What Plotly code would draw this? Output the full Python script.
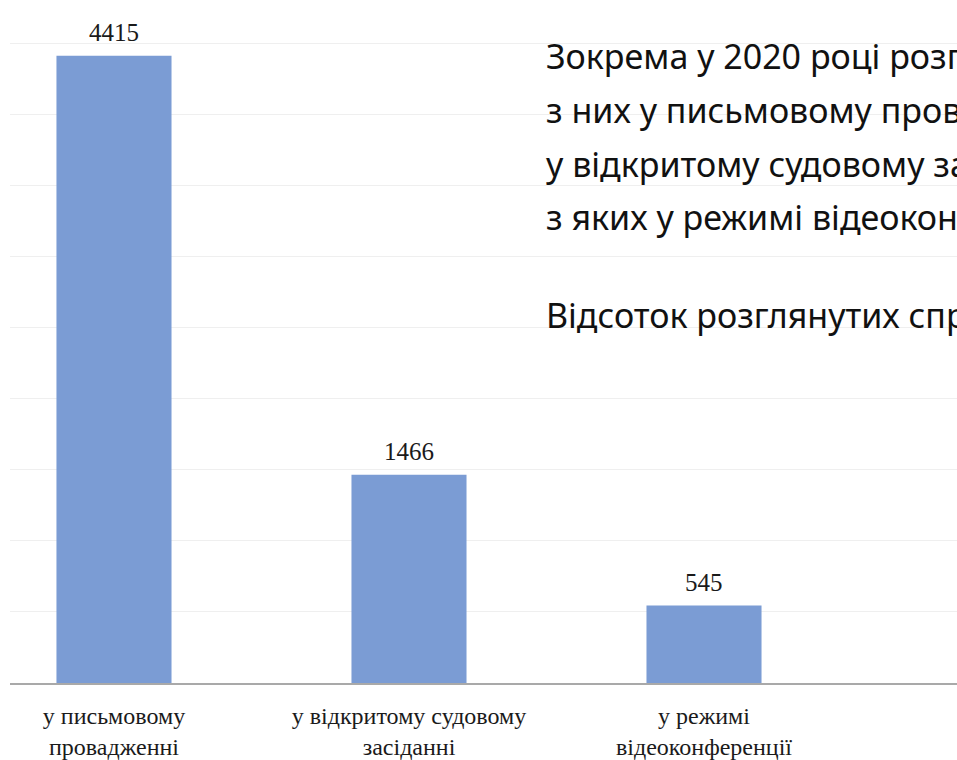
import plotly.graph_objects as go

categories = ["у письмовому<br>провадженні", "у відкритому судовому<br>засіданні", "у режимі<br>відеоконференції"]
values = [4415, 1466, 545]

text_lines = [
    "Зокрема у 2020 році розглянуто",
    "з них у письмовому провадженні",
    "у відкритому судовому засіданні",
    "з яких у режимі відеоконференції",
]
text_extra = "Відсоток розглянутих справ"

W, H = 957, 760
ML, MR, MT, MB = 10, 0, 8, 75

def px_x(px):
    return (px - ML) / (W - ML - MR)

def px_y(py):
    return 1 - (py - MT) / (H - MT - MB)

fig = go.Figure()
fig.add_trace(go.Bar(
    x=list(range(len(categories))),
    y=values,
    width=0.39,
    marker=dict(color="#7B9CD4", line=dict(width=0)),
    hoverinfo="skip",
))

annotations = []
for i, v in enumerate(values):
    annotations.append(dict(
        text=str(v), x=i, y=v, xref="x", yref="y",
        xanchor="center", yanchor="bottom", yshift=8, showarrow=False,
        font=dict(family="Liberation Serif", size=25, color="#1a1a1a"),
    ))

line_y = [56, 110, 164, 218]
for t, yy in zip(text_lines, line_y):
    annotations.append(dict(
        text=t, xref="paper", yref="paper", x=px_x(544), y=px_y(yy),
        xanchor="left", yanchor="middle", showarrow=False,
        font=dict(family="Noto Sans", size=34, color="#111111"),
    ))
annotations.append(dict(
    text=text_extra, xref="paper", yref="paper", x=px_x(544), y=px_y(316),
    xanchor="left", yanchor="middle", showarrow=False,
    font=dict(family="Noto Sans", size=34, color="#111111"),
))

fig.update_layout(
    width=W, height=H,
    margin=dict(l=ML, r=MR, t=MT, b=MB),
    paper_bgcolor="white", plot_bgcolor="white",
    showlegend=False,
    annotations=annotations,
    xaxis=dict(
        tickmode="array", tickvals=list(range(len(categories))), ticktext=categories,
        range=[-0.3525, 2.8576],
        showline=True, linecolor="#A9A9A9", linewidth=2,
        showgrid=False, zeroline=False,
        ticks="outside", ticklen=10, tickcolor="rgba(0,0,0,0)",
        tickfont=dict(family="Liberation Serif", size=24, color="#1a1a1a"),
        fixedrange=True,
    ),
    yaxis=dict(
        range=[0, 4751], dtick=500, showticklabels=False,
        showgrid=True, gridcolor="#EFEFEF", gridwidth=1,
        zeroline=False, showline=False, fixedrange=True,
    ),
)

fig.write_html(
    "out.html",
    config={"displayModeBar": False},
    post_script="document.body.style.margin='0';document.body.style.overflow='hidden';",
)
